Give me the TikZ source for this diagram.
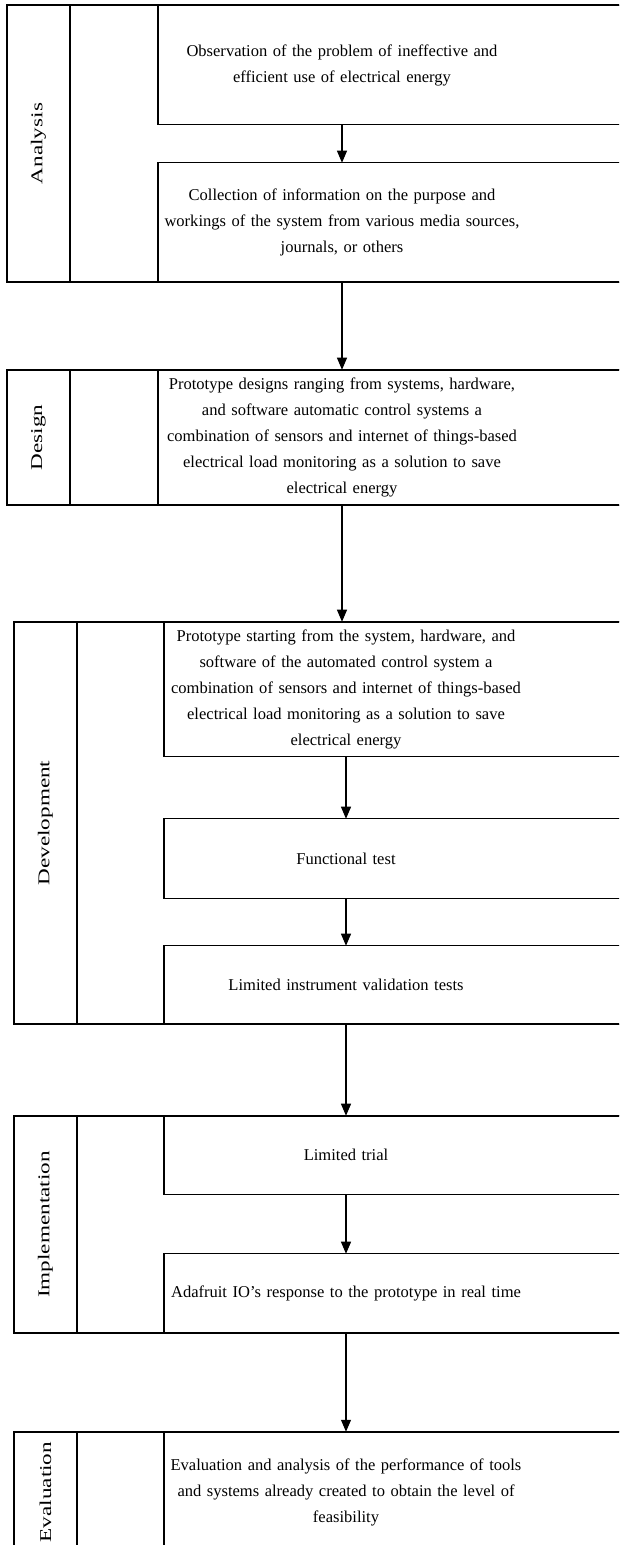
\documentclass[tikz,border=0pt]{standalone}
\usepackage{fontspec}
\setmainfont{Liberation Serif}
\usetikzlibrary{arrows.meta,positioning,calc}

\begin{document}
\begin{tikzpicture}[x=0.75pt,y=-0.75pt]
    \useasboundingbox (0,0) rectangle (619,1545);
    \clip (0,0) rectangle (619,1545);

    \tikzset{lane/.style={draw,line width=0.8pt},
        phase/.style={draw,line width=0.8pt,rotate=90,inner sep=0pt,minimum height=47.25pt,
            font=\fontsize{12.4}{15}\selectfont},
        stepbox/.style={inner sep=0pt,text width=290pt,align=center,
            font=\fontsize{12.4}{19.5}\selectfont},
        flow/.style={-{Triangle[width=7.5pt,length=9pt]},line width=0.8pt}}

    \coordinate (upl) at (158,0);
    \coordinate (lowl) at (164,0);
    \coordinate (far) at (700,0);

    % lanes
    \draw[lane] (7,5) rectangle (700,282);
    \draw[lane] (7,370) rectangle (700,505);
    \draw[lane] (14,622) rectangle (700,1024);
    \draw[lane] (14,1116) rectangle (700,1333);
    \draw[lane] (14,1432) rectangle (700,1552);

    \node[phase,minimum width=207.75pt] (analysis) at (38.5,143.5) {\scalebox{1.4}[1]{Analysis}};
    \node[phase,minimum width=101.25pt] (design) at (38.5,437.5) {\scalebox{1.4}[1]{Design}};
    \node[phase,minimum width=301.5pt] (develop) at (45.5,823) {\scalebox{1.4}[1]{Development}};
    \node[phase,minimum width=162.75pt] (implement) at (45.5,1224.5) {\scalebox{1.4}[1]{Implementation}};
    \node[phase,minimum width=90pt] (evaluation) at (45.5,1492) {\scalebox{1.4}[1]{Evaluation}};

    % steps
    \node[stepbox,minimum height=88.5pt] (obs) at (342,65) {Observation of the problem of ineffective and\\
        efficient use of electrical energy};
    \node[stepbox,minimum height=89.25pt] (collect) at (342,222.5) {Collection of information on the purpose and\\
        workings of the system from various media sources,\\ journals, or others};
    \node[stepbox,minimum height=101.25pt] (prodesign) at (342,437.5) {Prototype designs ranging from systems, hardware,\\
        and software automatic control systems a\\ combination of sensors and internet of things-based\\
        electrical load monitoring as a solution to save\\ electrical energy};
    \node[stepbox,minimum height=100.5pt] (proto) at (346,689) {Prototype starting from the system, hardware, and\\
        software of the automated control system a\\ combination of sensors and internet of things-based\\
        electrical load monitoring as a solution to save\\ electrical energy};
    \node[stepbox,minimum height=59.25pt] (functest) at (346,858.5) {Functional test};
    \node[stepbox,minimum height=58.5pt] (valid) at (346,985) {Limited instrument validation tests};
    \node[stepbox,minimum height=58.5pt] (trial) at (346,1155) {Limited trial};
    \node[stepbox,minimum height=59.25pt] (adafruit) at (346,1293.5) {Adafruit IO's response to the prototype in real time};
    \node[stepbox,minimum height=90pt] (evaluate) at (346,1492) {Evaluation and analysis of the performance of tools\\
        and systems already created to obtain the level of\\ feasibility};

    \foreach \s in {obs,collect,prodesign}
        \draw[lane] (\s.north -| upl) rectangle (\s.south -| far);
    \foreach \s in {proto,functest,valid,trial,adafruit,evaluate}
        \draw[lane] (\s.north -| lowl) rectangle (\s.south -| far);

    \draw[flow] (obs) -- (collect);
    \draw[flow] (collect) -- (prodesign);
    \draw[flow] (prodesign.south) -- (prodesign.south |- proto.north);
    \draw[flow] (proto) -- (functest);
    \draw[flow] (functest) -- (valid);
    \draw[flow] (valid) -- (trial);
    \draw[flow] (trial) -- (adafruit);
    \draw[flow] (adafruit) -- (evaluate);
\end{tikzpicture}
\end{document}
